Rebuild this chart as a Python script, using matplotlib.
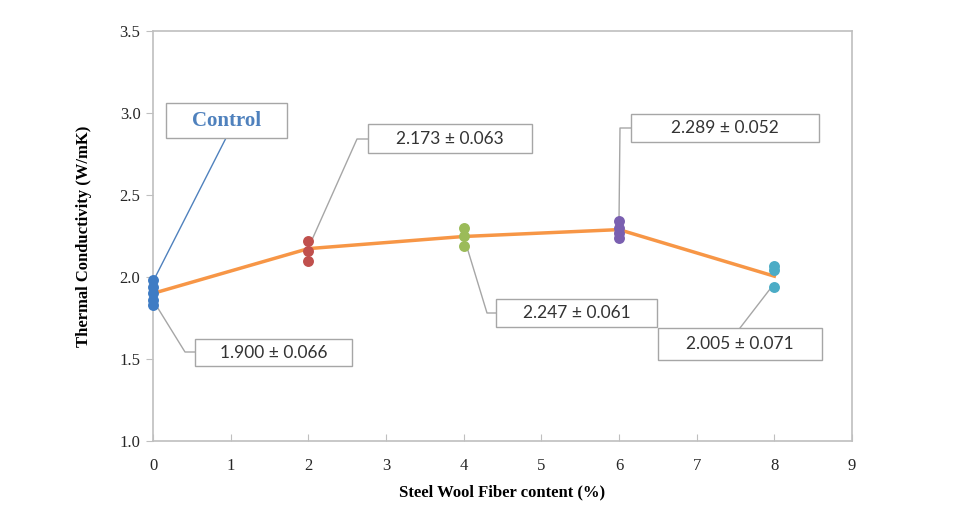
import matplotlib
matplotlib.use('Agg')
import matplotlib.pyplot as plt
from matplotlib.patches import Rectangle

# data
fiber = [0, 2, 4, 6, 8]
samples = [
    [1.98, 1.94, 1.90, 1.86, 1.83],
    [2.22, 2.16, 2.10],
    [2.30, 2.25, 2.19],
    [2.34, 2.30, 2.27, 2.24],
    [2.07, 2.04, 1.94],
]
means = [1.900, 2.173, 2.247, 2.289, 2.005]
stds = [0.066, 0.063, 0.061, 0.052, 0.071]
point_colors = ['#3f7cc4', '#c0504d', '#9bbb59', '#7a5fb0', '#4bacc6']
x_ticks = list(range(10))
y_ticks = [1.0, 1.5, 2.0, 2.5, 3.0, 3.5]

serif = 'Liberation Serif'
grey = '#bfbfbf'

fig = plt.figure(figsize=(9.64, 5.18), dpi=100)
# axes box in pixels: x 153..852, y 31..441
L, R, T, B = 153, 852, 31, 441
W, H = 964, 518
ax = fig.add_axes([L / W, (H - B) / H, (R - L) / W, (B - T) / H])


def px(x, y):
    """pixel position -> axes fraction"""
    return (x - L) / (R - L), (B - y) / (B - T)


ax.plot(fiber, means, color='#f79646', lw=2.5, zorder=2)
for x, vals, c in zip(fiber, samples, point_colors):
    ax.scatter([x] * len(vals), vals, s=62, color=c, zorder=3, linewidths=0,
               clip_on=False)

ax.set_xlim(0, 9)
ax.set_ylim(1.0, 3.5)
ax.set_xticks(x_ticks)
ax.set_yticks(y_ticks)
ax.set_yticklabels([f'{v:.1f}' for v in y_ticks])
for s in ax.spines.values():
    s.set_color(grey)
    s.set_linewidth(1.2)
ax.tick_params(axis='x', direction='in', length=5, color=grey, pad=12,
               labelsize=12, labelcolor='#262626')
ax.tick_params(axis='y', direction='out', length=5, color=grey, pad=4,
               labelsize=12, labelcolor='#262626')
for lab in ax.get_xticklabels() + ax.get_yticklabels():
    lab.set_fontfamily(serif)

ax.set_xlabel('Steel Wool Fiber content (%)', fontfamily=serif,
              fontweight='bold', fontsize=12, labelpad=8)
ax.set_ylabel('Thermal Conductivity (W/mK)', fontfamily=serif,
              fontweight='bold', fontsize=12, labelpad=20)


def box(x0, y0, x1, y1, text, **kw):
    a0 = px(x0, y1)
    a1 = px(x1, y0)
    ax.add_patch(Rectangle(a0, a1[0] - a0[0], a1[1] - a0[1], transform=ax.transAxes,
                           facecolor='white', edgecolor='#a6a6a6', lw=1.0,
                           clip_on=False, zorder=4))
    cx, cy = px((x0 + x1) / 2, (y0 + y1) / 2)
    ax.text(cx, cy, text, transform=ax.transAxes, ha='center', va='center',
            zorder=5, clip_on=False, **kw)


def leader(data_pt, pix_pts, color='#a6a6a6'):
    pts = [ax.transData.transform(data_pt)]
    pts += [ax.transAxes.transform(px(*p)) for p in pix_pts]
    inv = ax.transData.inverted()
    dpts = [inv.transform(p) for p in pts]
    ax.plot([d[0] for d in dpts], [d[1] for d in dpts], color=color, lw=1.0,
            clip_on=False, zorder=1)


label_font = dict(fontfamily='Lato', fontsize=12.5, color='#333333')

# Control callout
leader((0.03, 2.0), [(226, 138)], color='#4f81bd')
box(166, 103, 287, 138, 'Control', fontfamily=serif, fontweight='bold',
    fontsize=15, color='#4f81bd')

labels = [f'{m:.3f} ± {s:.3f}' for m, s in zip(means, stds)]
callouts = [
    ((0.05, 1.82), [(185, 352), (195, 352)], (195, 339, 352, 366)),
    ((2.05, 2.23), [(357, 139), (368, 139)], (368, 124, 532, 153)),
    ((4.05, 2.17), [(487, 313), (496, 313)], (496, 299, 657, 327)),
    ((6.0, 2.34), [(620, 128), (631, 128)], (631, 114, 819, 142)),
    ((7.95, 1.93), [(740, 328)], (658, 328, 822, 360)),
]
for lab, (dp, pp, bx) in zip(labels, callouts):
    leader(dp, pp)
    box(*bx, lab, **label_font)

fig.savefig('out.png', dpi=100)
